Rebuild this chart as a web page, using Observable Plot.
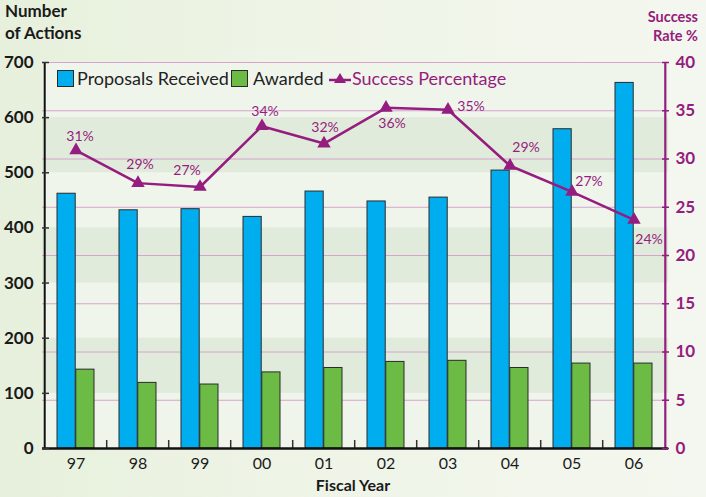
<!DOCTYPE html>
<html><head><meta charset="utf-8">
<script src="https://cdn.jsdelivr.net/npm/d3@7"></script>
<script src="https://cdn.jsdelivr.net/npm/@observablehq/plot@0.6"></script>
<style>
html,body{margin:0;padding:0;}
body{width:706px;height:497px;overflow:hidden;background:linear-gradient(90deg,#e7f0dc 0%,#eef4e6 40%,#f4f7ef 100%);font-family:Lato,"Open Sans",sans-serif;}
#wrap{position:relative;width:706px;height:497px;}
#wrap svg{position:absolute;left:0;top:0;}
.ov{position:absolute;white-space:nowrap;}
.t-left{left:5px;top:0px;font-weight:bold;font-size:17px;line-height:22px;color:#1a1a1a;}
.t-right{right:8px;top:7px;font-weight:bold;font-size:14.5px;line-height:19px;color:#951d7d;text-align:right;}
.t-bottom{left:0;width:706px;text-align:center;top:477px;font-weight:bold;font-size:16px;line-height:16px;color:#1a1a1a;padding-left:-2px;}
.sw{position:absolute;width:15px;height:15px;border:1.3px solid #2a2a2a;top:70px;}
.lt{position:absolute;top:67px;font-size:18px;line-height:22px;color:#222;}
</style></head><body>
<div id="wrap"></div>
<script>
// ---- data ----
const years = ["97","98","99","00","01","02","03","04","05","06"];
const proposalsReceived = [462, 432, 434, 420, 466, 448, 455, 504, 579, 663];
const awarded = [143, 119, 116, 138, 146, 157, 159, 146, 154, 154];
const successRate = [30.9, 27.5, 27.1, 33.4, 31.6, 35.3, 35.1, 29.3, 26.6, 23.7];
const successLabels = ["31%","29%","27%","34%","32%","36%","35%","29%","27%","24%"];
const leftTicks = [0,100,200,300,400,500,600,700];
const rightTicks = [0,5,10,15,20,25,30,35,40];
const shadedBands = [[100,200],[300,400],[500,600]];

// ---- layout ----
const W = 706, H = 497, mL = 42, mR = 38, mT = 62, mB = 49;
const leftMax = 700, rightMax = 40, k = leftMax / rightMax;
const step = (W - mL - mR) / years.length;
const bw = step * 0.6;
const pxPerUnit = (H - mT - mB) / leftMax;
// label offsets (pixels) relative to each line point
const labelOffset = [[4,-14],[2,-19],[-13,-16],[3,-15],[1,-16],[6,16],[23,-3],[16,-18],[17,-10],[15,20]];

const purple = "#951d7f";
const data = years.map((y, i) => ({year: y, proposals: proposalsReceived[i], awarded: awarded[i], rate: successRate[i], label: successLabels[i]}));

const chart = Plot.plot({
  width: W, height: H,
  marginLeft: mL, marginRight: mR, marginTop: mT, marginBottom: mB,
  style: {background: "transparent", fontFamily: "Lato, 'Open Sans', sans-serif", overflow: "visible"},
  x: {type: "band", domain: years, paddingInner: 0.4, paddingOuter: 0.2, axis: null},
  y: {domain: [0, leftMax], axis: null},
  marks: [
    Plot.frame({fill: "#f0f5ec", stroke: null}),
    Plot.rect(shadedBands, {y1: d => d[0], y2: d => d[1], fill: "#e1ebdb"}),
    Plot.ruleY(rightTicks, {y: d => d * k, stroke: "#d6a4cc", strokeWidth: 1}),
    Plot.barY(data, {x: "year", y: "proposals", fill: "#00aeef", stroke: "#2b2b2b", strokeWidth: 1, insetRight: bw / 2}),
    Plot.barY(data, {x: "year", y: "awarded", fill: "#6cbb45", stroke: "#2b2b2b", strokeWidth: 1, insetLeft: bw / 2}),
    Plot.ruleX(years.slice(1), {x: d => d, dx: -step / 2, y1: 0, y2: 8 / pxPerUnit, stroke: "#333", strokeWidth: 1.5}),
    Plot.ruleX([years[0]], {x: d => d, dx: -step / 2, stroke: "#111", strokeWidth: 2}),
    Plot.ruleX([years[years.length - 1]], {x: d => d, dx: step / 2, stroke: purple, strokeWidth: 2.2}),
    Plot.ruleY([0], {stroke: "#111", strokeWidth: 2.5}),
    Plot.axisY(leftTicks, {anchor: "left", tickSize: 7, dx: 7, tickFormat: () => "", label: null, color: "#333", strokeWidth: 1.5}),
    Plot.axisY(leftTicks, {anchor: "left", tickSize: 0, tickPadding: 9, label: null, fontSize: 17, fontWeight: "bold", color: "#1a1a1a"}),
    Plot.axisY(rightTicks.map(d => d * k), {anchor: "right", tickSize: 7, dx: -7, tickFormat: () => "", label: null, color: purple, strokeWidth: 1.5}),
    Plot.axisY(rightTicks.map(d => d * k), {anchor: "right", tickSize: 0, tickPadding: 7, tickFormat: d => String(Math.round(d / k)), label: null, fontSize: 17, fontWeight: "bold", color: purple}),
    Plot.axisX(years, {anchor: "bottom", tickSize: 0, tickPadding: 9, label: null, fontSize: 16, color: "#1a1a1a"}),
    Plot.line(data, {x: "year", y: d => d.rate * k, stroke: purple, strokeWidth: 2.5}),
    Plot.dot(data, {x: "year", y: d => d.rate * k, symbol: "triangle", r: 5, fill: purple, stroke: null}),
    ...data.map((d, i) => Plot.text([d], {x: "year", y: e => e.rate * k, text: "label", dx: labelOffset[i][0], dy: labelOffset[i][1], fill: purple, fontSize: 14}))
  ]
});

const wrap = document.getElementById("wrap");
wrap.appendChild(chart);
wrap.insertAdjacentHTML("beforeend", `
  <div class="ov t-left">Number<br>of Actions</div>
  <div class="ov t-right">Success<br>Rate %</div>
  <div class="ov t-bottom">Fiscal Year</div>
  <div class="sw" style="left:57px;background:#00aeef"></div>
  <div class="ov lt" style="left:77px">Proposals Received</div>
  <div class="sw" style="left:231px;background:#6cbb45"></div>
  <div class="ov lt" style="left:253px">Awarded</div>
  <svg style="position:absolute;left:329px;top:69px" width="22" height="20"><line x1="0" x2="22" y1="11" y2="11" stroke="${purple}" stroke-width="2.5"/><path d="M11,4 L17,14 L5,14 Z" fill="${purple}"/></svg>
  <div class="ov lt" style="left:352px;color:${purple}">Success Percentage</div>
`);
</script>
</body></html>
